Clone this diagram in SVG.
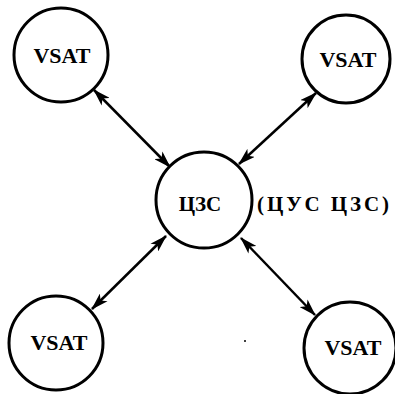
<svg xmlns="http://www.w3.org/2000/svg" width="395" height="394" viewBox="0 0 395 394">
<style>
.n{fill:#fff;stroke:#000;stroke-width:3}
.t{font-family:"Liberation Serif",serif;font-weight:bold;font-size:22px;text-anchor:middle;fill:#000}
.s{font-size:21px}
.c{stroke:#000;stroke-width:2.5;fill:none;marker-start:url(#a);marker-end:url(#a)}
</style>
<defs>
<marker id="a" viewBox="0 0 16 10" refX="15" refY="5" markerWidth="7" markerHeight="4.5" orient="auto-start-reverse" markerUnits="strokeWidth">
<path d="M0,0 L16,5 L0,10 L4,5 Z" fill="#000"/>
</marker>
</defs>
<rect width="395" height="394" fill="#fff"/>
<g id="connectors">
<line class="c" x1="94" y1="90" x2="170" y2="167"/>
<line class="c" x1="316" y1="93" x2="239" y2="164"/>
<line class="c" x1="92" y1="309" x2="166" y2="236"/>
<line class="c" x1="241" y1="238" x2="315" y2="315"/>
</g>
<g id="vsat1"><circle class="n" cx="61" cy="55" r="47"/><text class="t" x="62" y="63">VSAT</text></g>
<g id="vsat2"><circle class="n" cx="346" cy="59" r="44"/><text class="t" x="348" y="67">VSAT</text></g>
<g id="vsat3"><circle class="n" cx="56" cy="343" r="47"/><text class="t" x="59" y="350">VSAT</text></g>
<g id="vsat4"><circle class="n" cx="350" cy="348" r="46"/><text class="t" x="353" y="355">VSAT</text></g>
<g id="czs"><circle class="n" cx="204" cy="200" r="48"/><text class="t s" x="200" y="211">ЦЗС</text></g>
<text class="t s" x="323" y="211" textLength="132">(ЦУС ЦЗС)</text>
<circle cx="245" cy="341" r="1" fill="#000"/>
</svg>
